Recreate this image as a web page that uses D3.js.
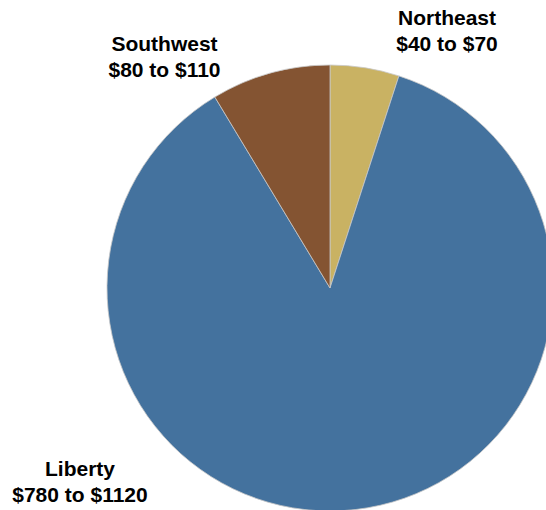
<!DOCTYPE html>
<html>
<head>
<meta charset="utf-8">
<script src="https://cdn.jsdelivr.net/npm/d3@7/dist/d3.min.js"></script>
<style>
  html, body { margin: 0; padding: 0; background: #fff; }
  svg { display: block; }
  text { font-family: "Liberation Sans", Arial, sans-serif; font-weight: bold; fill: #000; }
</style>
</head>
<body>
<svg id="chart" width="546" height="510"></svg>
<script>
// Regional cost ranges; slice size uses the midpoint of each range
const regions = ["Northeast", "Liberty", "Southwest"];
const rangeLow = [40, 780, 80];
const rangeHigh = [70, 1120, 110];
const rangeLabels = ["$40 to $70", "$780 to $1120", "$80 to $110"];
const colors = ["#c9b263", "#44729e", "#845432"];

const data = regions.map((name, i) => ({
  name,
  value: (rangeLow[i] + rangeHigh[i]) / 2,
  label: rangeLabels[i],
  color: colors[i]
}));

const svg = d3.select("#chart");
const cx = 330, cy = 288, radius = 223;

const pie = d3.pie().sort(null).value(d => d.value);
const arc = d3.arc().innerRadius(0).outerRadius(radius);

const g = svg.append("g").attr("transform", `translate(${cx},${cy})`);
g.selectAll("path")
  .data(pie(data))
  .join("path")
  .attr("d", arc)
  .attr("fill", d => d.data.color)
  .attr("stroke", "#c8c8c8")
  .attr("stroke-width", 0.8);

// Label positions for each region (two-line labels)
const labelPos = {
  Northeast: [447, 25],
  Southwest: [164.5, 51],
  Liberty: [80, 476]
};

data.forEach(d => {
  const [x, y] = labelPos[d.name];
  const t = svg.append("text")
    .attr("x", x).attr("y", y)
    .attr("text-anchor", "middle")
    .style("font-size", "21px");
  t.append("tspan").attr("x", x).text(d.name);
  t.append("tspan").attr("x", x).attr("dy", 25.5).text(d.label);
});
</script>
</body>
</html>
